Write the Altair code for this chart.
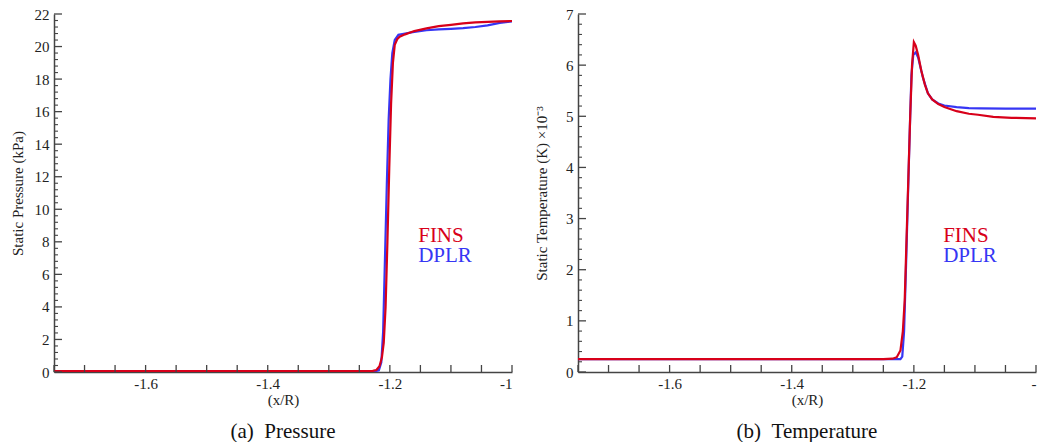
import altair as alt
import pandas as pd

# ---------------- data ----------------
# Pressure, kPa
p_fins_x = [-1.75, -1.30, -1.24, -1.228, -1.222, -1.217, -1.213, -1.210, -1.207, -1.204,
            -1.201, -1.198, -1.195, -1.192, -1.188, -1.184, -1.175, -1.16, -1.14, -1.12,
            -1.10, -1.08, -1.06, -1.04, -1.02, -1.00]
p_fins_y = [0.06, 0.06, 0.06, 0.07, 0.12, 0.35, 0.9, 1.8, 4.0, 8.0,
            12.5, 16.5, 19.0, 20.1, 20.45, 20.6, 20.75, 20.95, 21.12, 21.25,
            21.33, 21.42, 21.48, 21.52, 21.55, 21.57]
p_dplr_x = [-1.75, -1.30, -1.225, -1.218, -1.214, -1.211, -1.208, -1.205, -1.202, -1.199,
            -1.196, -1.192, -1.186, -1.175, -1.16, -1.14, -1.12, -1.10, -1.08, -1.06,
            -1.04, -1.02, -1.00]
p_dplr_y = [0.04, 0.04, 0.04, 0.1, 0.6, 2.5, 7.0, 11.5, 15.5, 18.0,
            19.6, 20.4, 20.72, 20.8, 20.9, 21.0, 21.06, 21.09, 21.13, 21.2,
            21.3, 21.45, 21.55]

# Temperature, K x 10^-3
t_fins_x = [-1.75, -1.25, -1.235, -1.228, -1.222, -1.218, -1.215, -1.212, -1.209, -1.206,
            -1.203, -1.200, -1.197, -1.193, -1.188, -1.182, -1.177, -1.17, -1.16, -1.15,
            -1.13, -1.11, -1.095, -1.07, -1.04, -1.00]
t_fins_y = [0.25, 0.25, 0.26, 0.29, 0.42, 0.8, 1.4, 2.6, 3.8, 5.0,
            6.0, 6.45, 6.38, 6.2, 5.9, 5.62, 5.45, 5.33, 5.24, 5.18,
            5.1, 5.05, 5.03, 4.99, 4.97, 4.96]
t_dplr_x = [-1.75, -1.222, -1.219, -1.216, -1.213, -1.210, -1.207, -1.204, -1.201, -1.197,
            -1.193, -1.19, -1.185, -1.177, -1.17, -1.16, -1.15, -1.13, -1.11, -1.09,
            -1.05, -1.00]
t_dplr_y = [0.25, 0.25, 0.3, 0.8, 2.0, 3.3, 4.6, 5.8, 6.2, 6.25,
            6.15, 6.0, 5.75, 5.45, 5.33, 5.25, 5.21, 5.18, 5.16, 5.155,
            5.15, 5.15]

series_names = ["FINS", "DPLR"]
# legend text anchors (data coordinates)
p_label_x = [-1.1536, -1.1536]
p_label_y = [8.0, 6.77]
t_label_x = [-1.152, -1.152]
t_label_y = [2.536, 2.157]

x_label_values = [-1.6, -1.4, -1.2, -1.0]
x_tick_values = [-1.75, -1.70, -1.65, -1.60, -1.55, -1.50, -1.45, -1.40, -1.35, -1.30,
                 -1.25, -1.20, -1.15, -1.10, -1.05, -1.00]
p_major = [0, 2, 4, 6, 8, 10, 12, 14, 16, 18, 20, 22]
p_minor = [0.4, 0.8, 1.2, 1.6, 2.4, 2.8, 3.2, 3.6, 4.4, 4.8, 5.2, 5.6, 6.4, 6.8, 7.2, 7.6,
           8.4, 8.8, 9.2, 9.6, 10.4, 10.8, 11.2, 11.6, 12.4, 12.8, 13.2, 13.6, 14.4, 14.8,
           15.2, 15.6, 16.4, 16.8, 17.2, 17.6, 18.4, 18.8, 19.2, 19.6, 20.4, 20.8, 21.2, 21.6]
t_major = [0, 1, 2, 3, 4, 5, 6, 7]
t_minor = [0.2, 0.4, 0.6, 0.8, 1.2, 1.4, 1.6, 1.8, 2.2, 2.4, 2.6, 2.8, 3.2, 3.4, 3.6, 3.8,
           4.2, 4.4, 4.6, 4.8, 5.2, 5.4, 5.6, 5.8, 6.2, 6.4, 6.6, 6.8]

# ---------------- styling ----------------
FONT = "Liberation Serif"
RED = "#d8001a"
BLUE = "#3636f4"
AXC = "#444444"
W, H = 458, 358


def panel(fx, fy, dx, dy, ymax, major, minor, ytitle, lx, ly, caption, cut_last):
    xs = alt.Scale(domain=[-1.75, -1.0], nice=False, zero=False)
    ys = alt.Scale(domain=[0, ymax], nice=False, zero=False)
    if cut_last:
        # the reference image is cropped through the last label of this panel
        xkw = dict(labelExpr="datum.value == -1 ? '-' : '' + datum.value", labelFlush=True)
    else:
        xkw = dict(labelExpr="'' + datum.value")
    xaxis = alt.Axis(title="(x/R)", values=x_label_values,
                     ticks=False, grid=False, domainColor=AXC, domainWidth=1.5,
                     labelFont=FONT, labelFontSize=15, labelColor="#222222", labelPadding=4,
                     titleFont=FONT, titleFontSize=15, titleFontWeight="normal",
                     titleColor="#222222", titleBaseline="middle", titleY=27, **xkw)
    yaxis = alt.Axis(title=ytitle, values=major, ticks=False, grid=False,
                     domainColor=AXC, domainWidth=1.5,
                     labelFont=FONT, labelFontSize=15, labelColor="#222222", labelPadding=5,
                     titleFont=FONT, titleFontSize=15, titleFontWeight="normal",
                     titleColor="#222222", titleBaseline="middle", titleX=-36.5)

    dplr = pd.DataFrame({"x": dx, "v": dy})
    fins = pd.DataFrame({"x": fx, "v": fy})
    l_blue = alt.Chart(dplr).mark_line(color=BLUE, strokeWidth=2.2, clip=True).encode(
        x=alt.X("x:Q", scale=xs, axis=xaxis), y=alt.Y("v:Q", scale=ys, axis=yaxis))
    l_red = alt.Chart(fins).mark_line(color=RED, strokeWidth=2.2, clip=True).encode(
        x=alt.X("x:Q", scale=xs, axis=xaxis), y=alt.Y("v:Q", scale=ys, axis=yaxis))

    xt = alt.Chart(pd.DataFrame({"x": x_tick_values})).mark_rule(color=AXC, strokeWidth=1.3).encode(
        x=alt.X("x:Q", scale=xs, axis=xaxis), y=alt.value(H), y2=alt.value(H - 7))
    ymj = alt.Chart(pd.DataFrame({"v": major})).mark_rule(color=AXC, strokeWidth=1.3).encode(
        y=alt.Y("v:Q", scale=ys, axis=yaxis), x=alt.value(0), x2=alt.value(8))
    ymn = alt.Chart(pd.DataFrame({"v": minor})).mark_rule(color=AXC, strokeWidth=1.1).encode(
        y=alt.Y("v:Q", scale=ys, axis=yaxis), x=alt.value(0), x2=alt.value(4))

    lab = pd.DataFrame({"name": series_names, "x": lx, "v": ly})
    txt = alt.Chart(lab).mark_text(font=FONT, fontSize=21, align="left", baseline="alphabetic").encode(
        x=alt.X("x:Q", scale=xs, axis=xaxis), y=alt.Y("v:Q", scale=ys, axis=yaxis),
        text="name:N",
        color=alt.Color("name:N", scale=alt.Scale(domain=series_names, range=[RED, BLUE]), legend=None))

    return alt.layer(l_blue, l_red, xt, ymj, ymn, txt).properties(
        width=W, height=H,
        title=alt.TitleParams(caption, orient="bottom", font=FONT, fontSize=21,
                              fontWeight="normal", color="#111111", offset=14))


left = panel(p_fins_x, p_fins_y, p_dplr_x, p_dplr_y, 22, p_major, p_minor,
             "Static Pressure (kPa)", p_label_x, p_label_y, "(a)\u00a0\u00a0Pressure", False)
right = panel(t_fins_x, t_fins_y, t_dplr_x, t_dplr_y, 7, t_major, t_minor,
              "Static Temperature (K) \u00d710\u207b\u00b3", t_label_x, t_label_y,
              "(b)\u00a0\u00a0Temperature", True)

chart = alt.hconcat(left, right, spacing=21).properties(
    padding={"left": 10, "top": 7, "right": 0, "bottom": 0},
    background="white",
).configure_view(stroke=None)

chart.save("out.html", embed_options={"renderer": "svg", "actions": False})
